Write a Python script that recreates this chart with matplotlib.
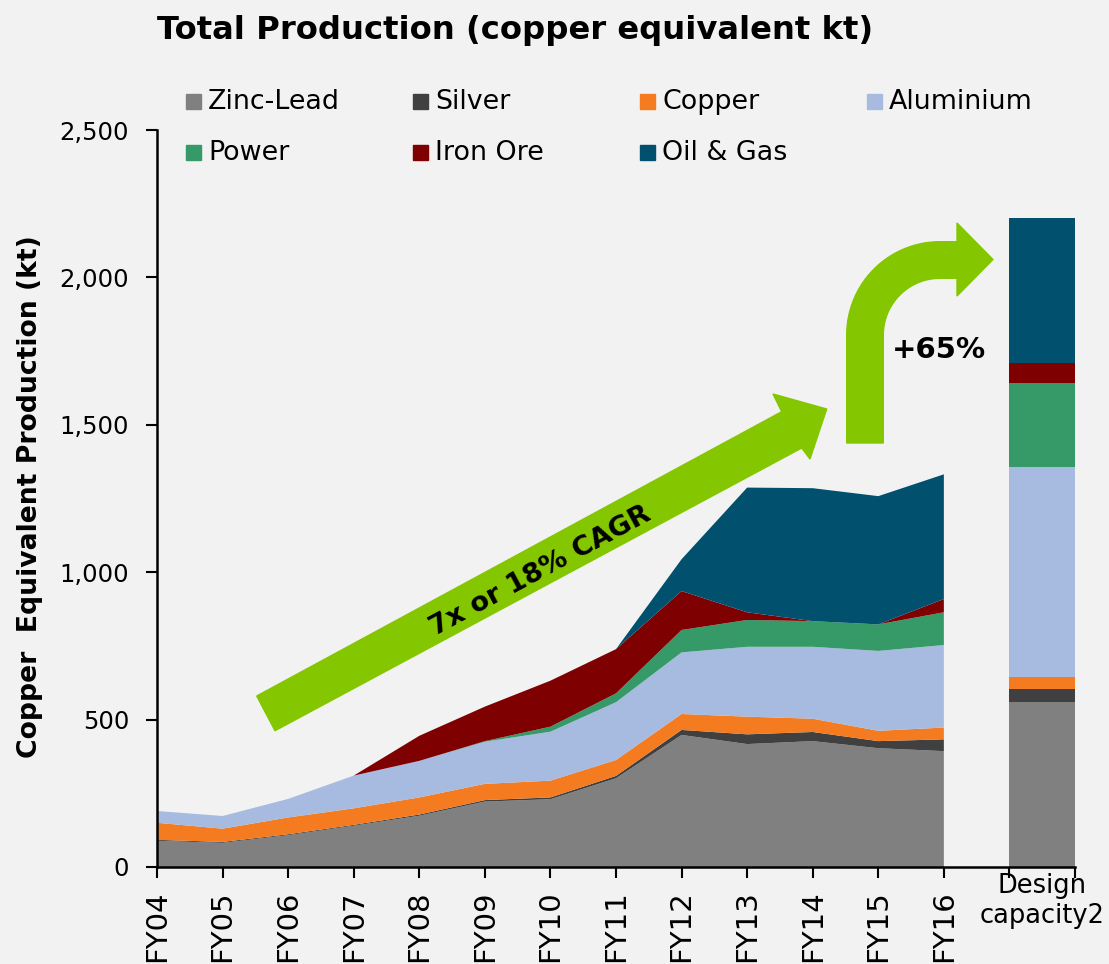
import matplotlib.pyplot as plt
import numpy as np
from matplotlib.patches import Polygon, Rectangle

years = ['FY04', 'FY05', 'FY06', 'FY07', 'FY08', 'FY09', 'FY10',
         'FY11', 'FY12', 'FY13', 'FY14', 'FY15', 'FY16']
series = ['Zinc-Lead', 'Silver', 'Copper', 'Aluminium', 'Power', 'Iron Ore', 'Oil & Gas']

# copper equivalent kt
zinc_lead = [89, 82, 108, 140, 174, 222, 230, 301, 448, 417, 427, 403, 393]
silver = [3, 3, 3, 3, 4, 5, 6, 8, 17, 33, 31, 24, 40]
copper = [58, 45, 57, 56, 58, 55, 57, 54, 54, 60, 45, 35, 40]
aluminium = [40, 43, 63, 111, 124, 143, 166, 196, 209, 237, 244, 271, 280]
power = [0, 0, 0, 0, 0, 2, 17, 30, 76, 91, 87, 90, 111]
iron_ore = [0, 0, 0, 0, 85, 117, 156, 150, 132, 26, 0, 0, 45]
oil_gas = [0, 0, 0, 0, 0, 0, 0, 0, 108, 423, 451, 435, 423]

design_label = 'Design\ncapacity2'
design_capacity = [560, 44, 41, 712, 285, 68, 491]

colors = ['#808080', '#404040', '#F47B20', '#A7BAE0', '#359A68', '#7F0000', '#00506E']
green = '#84C600'
bg = '#F2F2F2'

W, H = 1109, 964
fig = plt.figure(figsize=(W / 100, H / 100), dpi=100, facecolor=bg)
ax = fig.add_axes([157 / W, 1 - 867 / H, 918 / W, 737 / H], facecolor=bg)

x = np.arange(len(years))
ax.stackplot(x, zinc_lead, silver, copper, aluminium, power, iron_ore, oil_gas,
             colors=colors, linewidth=0)

bottom = 0
for val, c in zip(design_capacity, colors):
    ax.bar(13.5, val, width=1.0, bottom=bottom, color=c, linewidth=0)
    bottom += val

ax.set_xlim(0, 14)
ax.set_ylim(0, 2500)
ax.set_yticks(range(0, 2501, 500))
ax.set_yticklabels([f'{v:,}' for v in range(0, 2501, 500)])
ax.set_xticks(range(15))
ax.set_xticklabels(years + ['', ''], rotation=90)
ax.set_xticks([13.5], [design_label], minor=True)

for s in ['top', 'right']:
    ax.spines[s].set_visible(False)
for s in ['left', 'bottom']:
    ax.spines[s].set_linewidth(1.8)
ax.tick_params(axis='y', length=8, width=1.5, pad=12, labelsize=17.5)
ax.tick_params(axis='x', which='major', length=8, width=1.5, pad=9, labelsize=21)
ax.tick_params(axis='x', which='minor', length=0, pad=4, labelsize=18.5)

# title and axis label
fig.text(515 / W, 1 - 30 / H, 'Total Production (copper equivalent kt)',
         ha='center', va='center', fontsize=23.2, fontweight='bold')
fig.text(30 / W, 1 - 497 / H, 'Copper  Equivalent Production (kt)', rotation=90,
         ha='center', va='center', fontsize=19.2, fontweight='bold')

# legend, laid out in a 4 x 2 grid like the original
for i, (name, c) in enumerate(zip(series, colors)):
    col, row = i % 4, i // 4
    sx = 186 + col * 227
    sy = 94 + row * 51
    fig.patches.append(Rectangle((sx / W, 1 - (sy + 15) / H), 15 / W, 15 / H,
                                 transform=fig.transFigure, color=c))
    fig.text((sx + 22) / W, 1 - (sy + 8) / H, name, ha='left', va='center',
             fontsize=19.4)

# straight growth arrow
px1 = [(256.7, 696), (781.7, 411.7), (773, 394), (826.7, 409),
       (810, 459), (801.7, 448), (275, 730.7)]
fig.patches.append(Polygon([(a / W, 1 - b / H) for a, b in px1], closed=True,
                           transform=fig.transFigure, color=green, zorder=5))
fig.text(540 / W, 1 - 571 / H, '7x or 18% CAGR', rotation=28.3, ha='center',
         va='center', fontsize=19.6, fontweight='bold', zorder=6)

# bent arrow towards design capacity
cx, cy = 940, 335
ro, ri = 93.3, 56.7
t = np.linspace(0, np.pi / 2, 30)
pts = [(846.7, 443)]
pts += [(cx - ro * np.cos(a), cy - ro * np.sin(a)) for a in t]
pts += [(957, 241.7), (957, 223), (993, 259.5), (957, 296), (957, 278.3)]
pts += [(cx - ri * np.cos(a), cy - ri * np.sin(a)) for a in t[::-1]]
pts += [(883.3, 443)]
fig.patches.append(Polygon([(a / W, 1 - b / H) for a, b in pts], closed=True,
                           transform=fig.transFigure, color=green, zorder=5))
fig.text(939 / W, 1 - 350 / H, '+65%', ha='center', va='center',
         fontsize=21, fontweight='bold')

fig.savefig('out.png', dpi=100, facecolor=bg)
